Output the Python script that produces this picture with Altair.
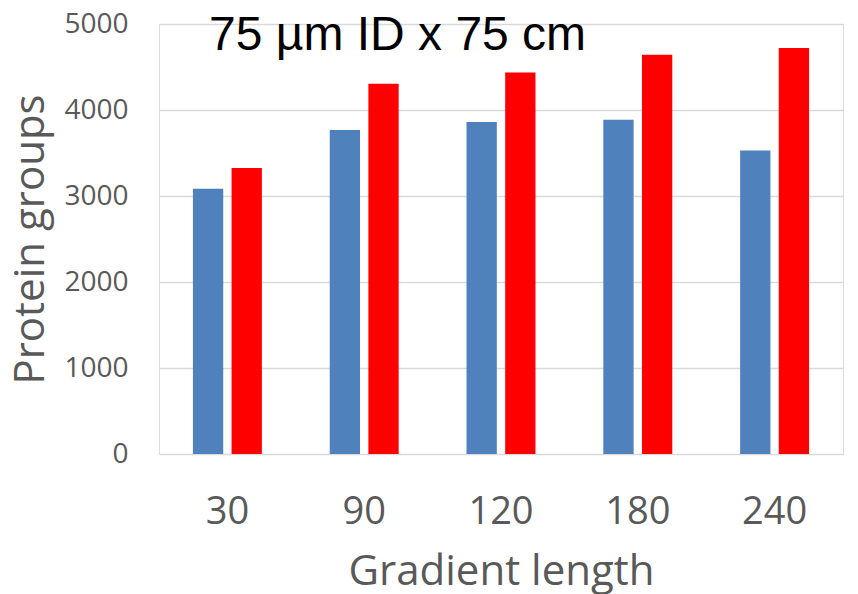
import altair as alt
import pandas as pd

gradients = ["30", "90", "120", "180", "240"]
series_a = [3085, 3767, 3860, 3887, 3530]
series_b = [3325, 4305, 4437, 4643, 4721]
series_names = ["Series 1", "Series 2"]
colors = ["#4F81BD", "#FF0000"]
y_ticks = [0, 1000, 2000, 3000, 4000, 5000]
chart_title = ["75 µm ID x 75 cm"]

rows = []
for g, a, b in zip(gradients, series_a, series_b):
    rows.append({"gradient": g, "series": series_names[0], "value": a})
    rows.append({"gradient": g, "series": series_names[1], "value": b})
df = pd.DataFrame(rows)

bars = alt.Chart(df).mark_bar().encode(
    x=alt.X("gradient:N", sort=gradients,
            scale=alt.Scale(paddingInner=0.496, paddingOuter=0.248),
            axis=alt.Axis(title="Gradient length", labelAngle=0,
                          labelFont="Open Sans", labelFontSize=38, labelColor="#595959",
                          labelBaseline="alphabetic", labelPadding=69,
                          ticks=False, domain=False, grid=False,
                          titleFont="Open Sans", titleFontSize=42, titleColor="#595959",
                          titleFontWeight="normal", titleBaseline="alphabetic",
                          titleY=130)),
    xOffset=alt.XOffset("series:N", sort=series_names,
                        scale=alt.Scale(paddingInner=0.216, paddingOuter=0)),
    y=alt.Y("value:Q", scale=alt.Scale(domain=[0, 5000], nice=False),
            axis=alt.Axis(title="Protein groups", values=y_ticks, format="d",
                          labelFont="Open Sans", labelFontSize=28, labelColor="#595959",
                          labelPadding=31, ticks=False, domain=False,
                          grid=True, gridColor="#D9D9D9", gridWidth=1.3,
                          titleFont="Open Sans", titleFontSize=42, titleColor="#595959",
                          titleFontWeight="normal", titleBaseline="alphabetic",
                          titleAngle=-90, titleAlign="center",
                          titleX=-116, titleY=215)),
    color=alt.Color("series:N", sort=series_names,
                    scale=alt.Scale(domain=series_names, range=colors), legend=None),
)

title_text = alt.Chart(pd.DataFrame({"t": chart_title})).mark_text(
    font="Liberation Sans", fontSize=48, color="#000000",
    align="left", baseline="alphabetic",
).encode(text="t:N", x=alt.value(50), y=alt.value(26))

chart = alt.layer(bars, title_text).properties(
    width=684, height=430,
    autosize=alt.AutoSizeParams(type="none"),
    padding={"left": 159, "top": 24, "right": 15, "bottom": 140},
).configure_view(stroke=None).configure(background="white")

chart.save("out.html", embed_options={"renderer": "svg", "actions": False})
